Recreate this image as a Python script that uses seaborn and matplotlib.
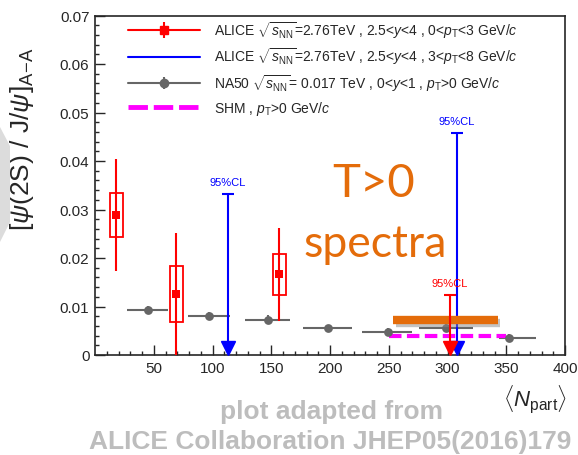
import numpy as np
import matplotlib
matplotlib.use("Agg")
import matplotlib.pyplot as plt
import matplotlib.transforms as mtransforms
import matplotlib.patheffects as pe
from matplotlib.patches import Rectangle, Polygon
from matplotlib.lines import Line2D
from matplotlib.legend_handler import HandlerTuple
import seaborn as sns

# ALICE 2.5<y<4, 0<pT<3 GeV/c
alice_lo_x = [18, 69, 157]
alice_lo_y = [0.0289, 0.0126, 0.0166]
alice_lo_stat_lo = [0.0174, -0.002, 0.0070]
alice_lo_stat_hi = [0.0404, 0.0251, 0.0262]
alice_lo_sys_lo = [0.0244, 0.0069, 0.0124]
alice_lo_sys_hi = [0.0335, 0.0184, 0.0208]
alice_lo_lim_x = [302]
alice_lo_lim_y = [0.0124]

# ALICE 2.5<y<4, 3<pT<8 GeV/c (upper limits only)
alice_hi_lim_x = [113, 308]
alice_hi_lim_y = [0.0332, 0.0457]

# NA50
na50_x = [45, 97, 147.5, 198, 249, 299, 352.5]
na50_y = [0.0093, 0.0081, 0.0073, 0.0055, 0.0048, 0.0055, 0.0036]
na50_xlo = [27.4, 79, 128, 177, 227, 276, 344]
na50_xhi = [62, 115, 166, 219, 270, 322, 375]
na50_yerr = [0.0009, 0.0008, 0.0009, 0.0007, 0.0007, 0.0008, 0.0008]

# SHM band and the orange overlay bar
shm_x = [250, 350]
shm_y = [0.0039, 0.0039]
bar_x = [254, 343]
bar_y = [0.0072, 0.0072]

RED = "#ff0000"
BLUE = "#0000ff"
GRAY = "#666666"
MAG = "#ff00ff"
ORANGE = "#e46c0a"

sns.set_style("ticks")
plt.rcParams["font.family"] = ["Liberation Sans", "DejaVu Sans"]
plt.rcParams["mathtext.fontset"] = "custom"
plt.rcParams["mathtext.rm"] = "Liberation Sans"
plt.rcParams["mathtext.it"] = "Liberation Sans:italic"
plt.rcParams["mathtext.bf"] = "Liberation Sans:bold"

W, H = 578, 456
fig = plt.figure(figsize=(W / 100, H / 100), dpi=100)
fig.patches.append(Polygon([(0 / W, 1 - 128 / H), (10 / W, 1 - 147 / H), (10 / W, 1 - 223 / H), (0 / W, 1 - 243 / H)],
                           closed=True, transform=fig.transFigure, facecolor="#dcdcdc", edgecolor="none"))
ax = fig.add_axes([95 / W, 1 - 356 / H, 470 / W, 339.5 / H])

# NA50 points
xl = np.array(na50_x) - np.array(na50_xlo)
xh = np.array(na50_xhi) - np.array(na50_x)
ax.errorbar(na50_x, na50_y, xerr=[xl, xh], yerr=na50_yerr, fmt="none", ecolor=GRAY, elinewidth=1.5, capsize=0, zorder=3)
sns.scatterplot(x=na50_x, y=na50_y, ax=ax, color=GRAY, marker="o", s=40, edgecolor=GRAY, linewidth=0, zorder=4)

# SHM
sns.lineplot(x=shm_x, y=shm_y, ax=ax, color=MAG, lw=3, dashes=False, zorder=3)
ax.lines[-1].set_dashes((3, 1.3))

# orange overlay
ax.plot(bar_x, bar_y, color=ORANGE, lw=6, solid_capstyle="butt", zorder=6,
        path_effects=[pe.SimpleLineShadow(offset=(1.5, -2), shadow_color="#888888", alpha=0.5), pe.Normal()])

# ALICE low pT: systematic boxes + stat bars
y = np.array(alice_lo_y)
ax.errorbar(alice_lo_x, y, yerr=[y - np.array(alice_lo_stat_lo), np.array(alice_lo_stat_hi) - y],
            fmt="none", ecolor=RED, elinewidth=1.5, capsize=0, zorder=4)
for xi, lo, hi in zip(alice_lo_x, alice_lo_sys_lo, alice_lo_sys_hi):
    ax.add_patch(Rectangle((xi - 5.5, lo), 11, hi - lo, fill=False, edgecolor=RED, lw=1.3, zorder=4))
sns.scatterplot(x=alice_lo_x, y=alice_lo_y, ax=ax, color=RED, marker="s", s=36, linewidth=0, zorder=5)

# upper limits
tri_off = mtransforms.offset_copy(ax.transData, fig=fig, y=5, units="points")


def upper_limits(xs, ys, color, z):
    ax.vlines(xs, 0.0008, ys, color=color, lw=1.5, zorder=z)
    ax.plot(xs, ys, ls="none", marker="_", ms=9, mew=1.5, color=color, zorder=z)
    ax.plot(xs, np.zeros(len(xs)), ls="none", marker="v", ms=10, color=color, mec=color,
            transform=tri_off, zorder=z, clip_on=False)
    for xi, yi in zip(xs, ys):
        ax.text(xi, yi + 0.0015, "95%CL", color=color, fontsize=8, ha="center", va="bottom", zorder=z)


upper_limits(alice_hi_lim_x, alice_hi_lim_y, BLUE, 5)
upper_limits(alice_lo_lim_x, alice_lo_lim_y, RED, 6)

ax.set_xlim(0, 400)
ax.set_ylim(0, 0.07)
ax.set_xticks(np.arange(50, 401, 50))
ax.set_xticks(np.arange(10, 400, 10), minor=True)
ax.set_yticks(np.arange(0, 0.0701, 0.01))
ax.set_yticks(np.arange(0, 0.0701, 0.002), minor=True)
ax.set_yticklabels(["0"] + [f"{v:.2f}" for v in np.arange(0.01, 0.0701, 0.01)])
ax.tick_params(which="both", direction="in", top=False, right=False, labelsize=11, width=1)
ax.tick_params(which="major", length=7, pad=4)
ax.tick_params(which="minor", length=3)
for s in ax.spines.values():
    s.set_linewidth(1.2)
    s.set_visible(True)

ax.set_ylabel(r"$[\psi(2{\rm S})\ /\ {\rm J}/\psi]_{\rm A\!-\!A}$", fontsize=19)
ax.yaxis.set_label_coords(-0.125, 0.64)
ax.set_xlabel("")
fig.text(535 / W, 1 - 400 / H, r"$\langle N_{\rm part}\rangle$", fontsize=16, ha="center", va="center")

# legend
h_red = (Line2D([], [], color=RED, lw=1.5),
         Line2D([], [], color=RED, marker="|", ms=11, mew=1.5, ls="none"),
         Line2D([], [], color=RED, marker="s", ms=6, ls="none"))
h_blue = Line2D([], [], color=BLUE, lw=1.5)
h_gray = (Line2D([], [], color=GRAY, lw=1.5),
          Line2D([], [], color=GRAY, marker="|", ms=9, mew=1.5, ls="none"),
          Line2D([], [], color=GRAY, marker="o", ms=6, ls="none"))
h_shm = Line2D([], [], color=MAG, lw=3.5, dashes=(4, 1.2))
labels = [
    r"ALICE $\sqrt{s_{\rm NN}}$=2.76TeV , 2.5<$y$<4 , 0<$p_{\rm T}$<3 GeV/$c$",
    r"ALICE $\sqrt{s_{\rm NN}}$=2.76TeV , 2.5<$y$<4 , 3<$p_{\rm T}$<8 GeV/$c$",
    r"NA50 $\sqrt{s_{\rm NN}}$= 0.017 TeV , 0<$y$<1 , $p_{\rm T}$>0 GeV/$c$",
    r"SHM , $p_{\rm T}$>0 GeV/$c$",
]
ax.legend([h_red, h_blue, h_gray, h_shm], labels, handler_map={tuple: HandlerTuple(ndivide=1)},
          loc="upper left", bbox_to_anchor=(0.05, 1.016), frameon=False, fontsize=10,
          handlelength=5.2, handletextpad=1.0, labelspacing=0.42, borderpad=0.2)

# overlay text
fig.text(374 / W, 1 - 184 / H, "T>0", color=ORANGE, fontsize=34, family="Lato", ha="center", va="center")
fig.text(375 / W, 1 - 245 / H, "spectra", color=ORANGE, fontsize=32, family="Lato", ha="center", va="center")
fig.text(331 / W, 1 - 412 / H, "plot adapted from", color="#bdbdbd", fontsize=19, fontweight="bold",
         ha="center", va="center")
fig.text(330 / W, 1 - 442 / H, "ALICE Collaboration JHEP05(2016)179", color="#bdbdbd", fontsize=19,
         fontweight="bold", ha="center", va="center")

fig.savefig("out.png", dpi=100)
